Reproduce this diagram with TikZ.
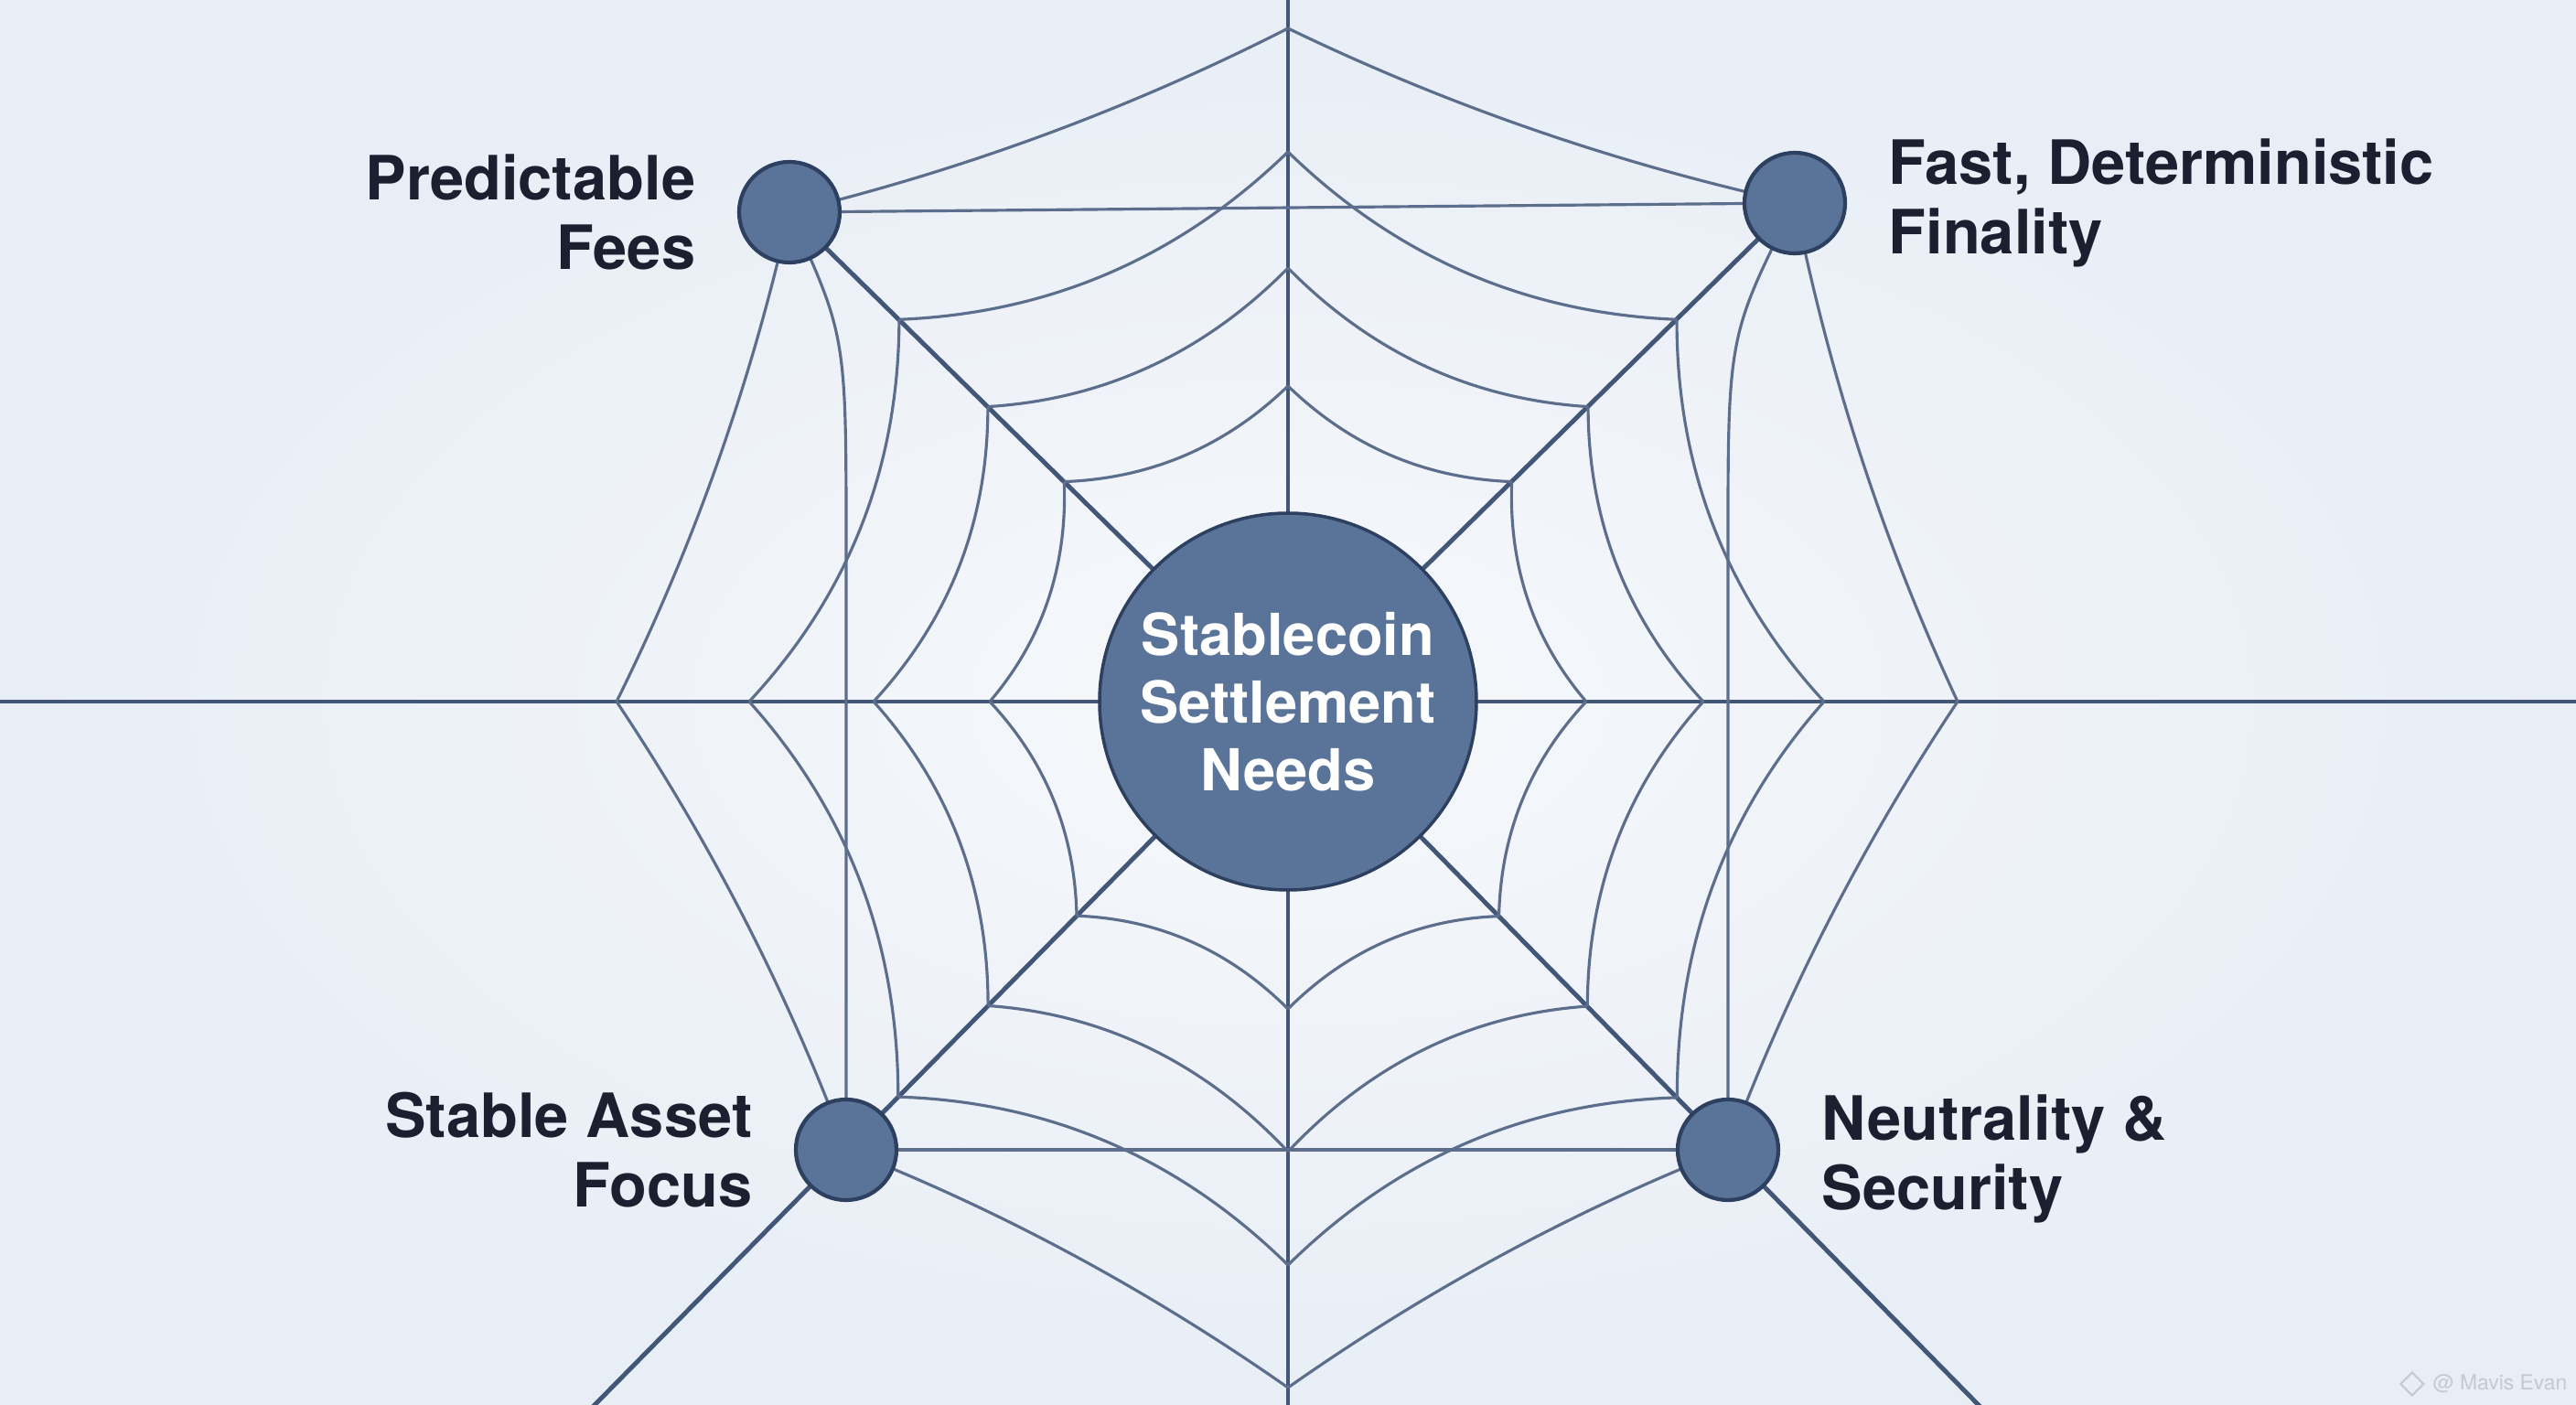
\documentclass[tikz,border=0pt]{standalone}
\usepackage{fontspec}
\setmainfont{TeX Gyre Heros}
\usetikzlibrary{calc,positioning,shapes.geometric}

\definecolor{webspoke}{RGB}{66, 86, 120}
\definecolor{webthread}{RGB}{92, 110, 140}
\definecolor{hubfill}{RGB}{90, 116, 153}
\definecolor{hubline}{RGB}{45, 64, 96}
\definecolor{inktext}{RGB}{26, 32, 48}
\definecolor{paperin}{RGB}{246, 248, 251}
\definecolor{paperout}{RGB}{232, 238, 246}
\definecolor{markgray}{RGB}{196, 202, 210}

\begin{document}
\begin{tikzpicture}[
  every node/.style={font=\bfseries},
  spoke/.style={draw=webspoke, line width=1.4pt},
  thread/.style={draw=webthread, line width=0.9pt},
  hub/.style={circle, draw=hubline, line width=1.2pt, fill=hubfill, minimum size=1.1cm, inner sep=0pt},
  core/.style={circle, draw=hubline, line width=1pt, fill=hubfill, minimum size=4.12cm, inner sep=0pt, align=center, text=white, font=\bfseries\fontsize{18}{21}\selectfont},
  need/.style={text=inktext, inner sep=0pt, font=\bfseries\fontsize{19}{21.6}\selectfont}
]
% Canvas
\useasboundingbox (-14.08,-7.69) rectangle (14.08,7.67);
\shade[inner color=paperin, outer color=paperout] (-14.08,-7.69) rectangle (14.08,7.67);
\clip (-14.08,-7.69) rectangle (14.08,7.67);

% Hub positions
\coordinate (c) at (0,0);
\coordinate (nw) at (-5.45,5.35);
\coordinate (ne) at (5.54,5.45);
\coordinate (sw) at (-4.83,-4.9);
\coordinate (se) at (4.81,-4.9);

% Spokes
\draw[spoke] (-14.08,0) -- (14.08,0);
\draw[spoke] (0,7.67) -- (0,-7.69);
\draw[spoke] (c) -- (nw);
\draw[spoke] (c) -- (ne);
\draw[spoke] (c) -- ($1.7*(sw)$);
\draw[spoke] (c) -- ($1.7*(se)$);

% Ring points on the spokes
\foreach \i/\rn/\rd/\re/\rs/\rw/\rb in {1/3.45/3.43/3.26/3.36/3.26/3.29, 2/4.74/4.60/4.54/4.92/4.53/4.67, 3/6.01/5.96/5.86/6.16/5.89/6.07}{
  \coordinate (n\i) at (0,\rn);
  \coordinate (e\i) at (\re,0);
  \coordinate (s\i) at (0,-\rs);
  \coordinate (w\i) at (-\rw,0);
  \coordinate (nw\i) at (135.5:\rd);
  \coordinate (ne\i) at (44.5:\rd);
  \coordinate (sw\i) at (-134.6:\rb);
  \coordinate (se\i) at (-45.5:\rb);
}
\coordinate (n4) at (0,7.36);
\coordinate (e4) at (7.32,0);
\coordinate (s4) at (0,-7.5);
\coordinate (w4) at (-7.34,0);
\coordinate (nw4) at (nw);
\coordinate (ne4) at (ne);
\coordinate (sw4) at (sw);
\coordinate (se4) at (se);

% Threads, sagging toward the centre
\foreach \i/\u/\v in {1/0.613/0.28, 2/0.613/0.28, 3/0.613/0.28, 4/0.65/0.317}
  \foreach \p/\q in {n/ne, ne/e, e/se, se/s, s/sw, sw/w, w/nw, nw/n}
    \draw[thread] (\p\i) .. controls ($\u*(\p\i)+\v*(\q\i)$) and ($\v*(\p\i)+\u*(\q\i)$) .. (\q\i);

% Frame between the hubs
\draw[thread] (nw) -- (ne);
\draw[thread] (sw) -- (se);
\draw[thread] (nw) .. controls (-4.83,4.0) .. (-4.83,1.7) -- (sw);
\draw[thread] (ne) .. controls (4.81,4.0) .. (4.81,1.7) -- (se);

% Hubs
\node[core] (needs) at (c) {Stablecoin\\Settlement\\Needs};
\node[hub] (fees) at (nw) {};
\node[hub] (finality) at (ne) {};
\node[hub] (asset) at (sw) {};
\node[hub] (security) at (se) {};

% Labels
\node[need, align=right, left=0.45cm of fees] (feesText) {Predictable\\Fees};
\node[need, align=left, right=0.45cm of finality] (finalityText) {Fast, Deterministic\\Finality};
\node[need, align=right, left=0.45cm of asset] (assetText) {Stable Asset\\Focus};
\node[need, align=left, right=0.45cm of security, yshift=-0.1cm] (securityText) {Neutrality \&\\Security};

% Watermark
\node[font=\fontsize{6.5}{8}\selectfont, text=markgray, anchor=east, inner sep=0pt] (mark) at (13.99,-7.46) {@ Mavis Evan};
\node[diamond, draw=markgray, line width=0.6pt, minimum size=0.26cm, inner sep=0pt, left=0.08cm of mark] (markLogo) {};
\end{tikzpicture}
\end{document}
